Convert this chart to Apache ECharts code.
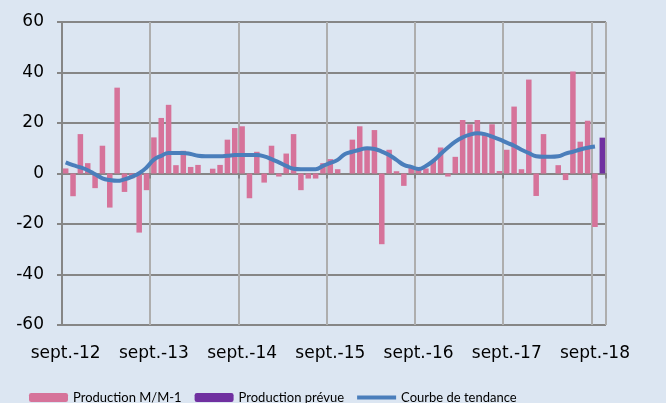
<!DOCTYPE html>
<html>
<head>
<meta charset="utf-8">
<script src="https://cdn.jsdelivr.net/npm/echarts@6/dist/echarts.min.js"></script>
<style>
html, body { margin: 0; padding: 0; background: #DCE6F2; }
#chart1 { width: 666px; height: 403px; }
</style>
</head>
<body>
<div id="chart1"></div>
<script>
// mois (sept. 2012 -> oct. 2018)
var moisNoms = ['janv.', 'févr.', 'mars', 'avr.', 'mai', 'juin', 'juil.', 'août', 'sept.', 'oct.', 'nov.', 'déc.'];
var categories = [];
for (var i = 0; i < 74; i++) {
	var m = (8 + i) % 12;
	var a = 12 + Math.floor((8 + i) / 12);
	categories.push(moisNoms[m] + '-' + a);
}

// Production M/M-1 (sept.-12 -> sept.-18)
var productionMM = [2, -9, 15.6, 4.1, -5.8, 11, -13.5, 34, -7.3, -1.9, -23.4, -6.6,
	14.3, 22, 27.2, 3.3, 9, 2.6, 3.4, 0, 1.9, 3.4, 13.4, 18,
	18.7, -9.8, 8.6, -3.6, 11, -1.2, 7.9, 15.6, -6.6, -2, -2, 4.1,
	5.7, 1.7, 0, 13.4, 18.7, 10, 17.2, -28, 9.4, 0.9, -4.9, 2.5,
	2, 2, 5, 10.3, -1.2, 6.6, 21.2, 19.5, 21.2, 15.5, 19.5, 1,
	9.4, 26.5, 1.7, 37.2, -8.9, 15.6, 0, 3.3, -2.6, 40.4, 12.6, 20.9,
	-21.2, null];

// Production prévue (oct.-18)
var productionPrevue = [];
for (var j = 0; j < 73; j++) productionPrevue.push(null);
productionPrevue.push(14.2);

// Courbe de tendance
var tendance = [4.4, 3.3, 2.4, 1.3, -0.3, -1.9, -2.6, -2.9, -2.3, -1.3, 0.1, 2.4,
	5.5, 7, 8.1, 8.1, 8.1, 7.7, 7, 6.8, 6.8, 6.8, 7, 7.3,
	7.3, 7.3, 7.3, 6.8, 5.7, 4.4, 3, 1.9, 1.7, 1.7, 1.7, 3,
	4.2, 5.4, 7.7, 8.6, 9.4, 10, 9.7, 8.7, 7.3, 5.4, 3.4, 2.6,
	1.8, 3, 5, 7.7, 10.3, 12.6, 14.3, 15.4, 15.9, 15.6, 14.6, 13.5,
	12.2, 11, 9.4, 8.1, 6.8, 6.6, 6.6, 6.8, 7.9, 8.6, 9.5, 10.2,
	10.7, null];

var yTicks = { min: -60, max: 60, interval: 20 };

var myChart = echarts.init(document.getElementById('chart1'));

function chaqueAnnee(index) { return index % 12 === 0; }

var option = {
	backgroundColor: '#DCE6F2',
	animation: false,
	grid: { left: 62, right: 60, top: 22, bottom: 78 },
	legend: {
		left: 24,
		top: 386,
		itemWidth: 39,
		itemHeight: 9,
		itemGap: 13,
		symbolKeepAspect: true,
		textStyle: { fontFamily: 'Lato', fontSize: 13, color: '#000' },
		data: [
			'Production M/M-1',
			'Production prévue',
			{ name: 'Courbe de tendance', icon: 'path://M0,0 L40,0 L40,4 L0,4 Z' }  // simple trait, sans rond
		]
	},
	xAxis: [
		{ // axe sur le zéro : trait + graduations annuelles
			type: 'category',
			position: 'bottom',
			data: categories,
			boundaryGap: true,
			axisLine: { onZero: true, lineStyle: { color: '#868686', width: 2 } },
			axisTick: { show: true, interval: chaqueAnnee, length: 5, lineStyle: { color: '#868686', width: 2 } },
			axisLabel: { show: false },
			splitLine: { show: true, interval: chaqueAnnee, lineStyle: { color: '#AEAEAE', width: 2 } }
		},
		{ // étiquettes en bas
			type: 'category',
			position: 'bottom',
			data: categories,
			boundaryGap: true,
			axisLine: { show: false, onZero: false },
			axisTick: { show: false },
			axisLabel: { interval: chaqueAnnee, margin: 20, fontFamily: 'DejaVu Sans', fontSize: 17, color: '#000' },
			splitLine: { show: false }
		}
	],
	yAxis: {
		type: 'value',
		min: yTicks.min,
		max: yTicks.max,
		interval: yTicks.interval,
		axisLine: { show: true, lineStyle: { color: '#868686', width: 2 } },
		axisTick: { show: true, length: 5, lineStyle: { color: '#868686', width: 2 } },
		axisLabel: { margin: 18, fontFamily: 'DejaVu Sans', fontSize: 17, color: '#000' },
		splitLine: { lineStyle: { color: '#868686', width: 2 } }
	},
	series: [
		{
			name: 'Production M/M-1',
			type: 'bar',
			xAxisIndex: 0,
			barCategoryGap: '25%',
			barGap: '-100%',
			itemStyle: { color: '#D6739A' },
			data: productionMM
		},
		{
			name: 'Production prévue',
			type: 'bar',
			xAxisIndex: 0,
			barCategoryGap: '25%',
			barGap: '-100%',
			itemStyle: { color: '#7030A0' },
			data: productionPrevue
		},
		{
			name: 'Courbe de tendance',
			type: 'line',
			xAxisIndex: 0,
			smooth: true,
			symbol: 'none',
			showSymbol: false,
			lineStyle: { color: '#4A7EBB', width: 4 },
			itemStyle: { color: '#4A7EBB' },
			data: tendance
		}
	]
};
myChart.setOption(option);
</script>
</body>
</html>
